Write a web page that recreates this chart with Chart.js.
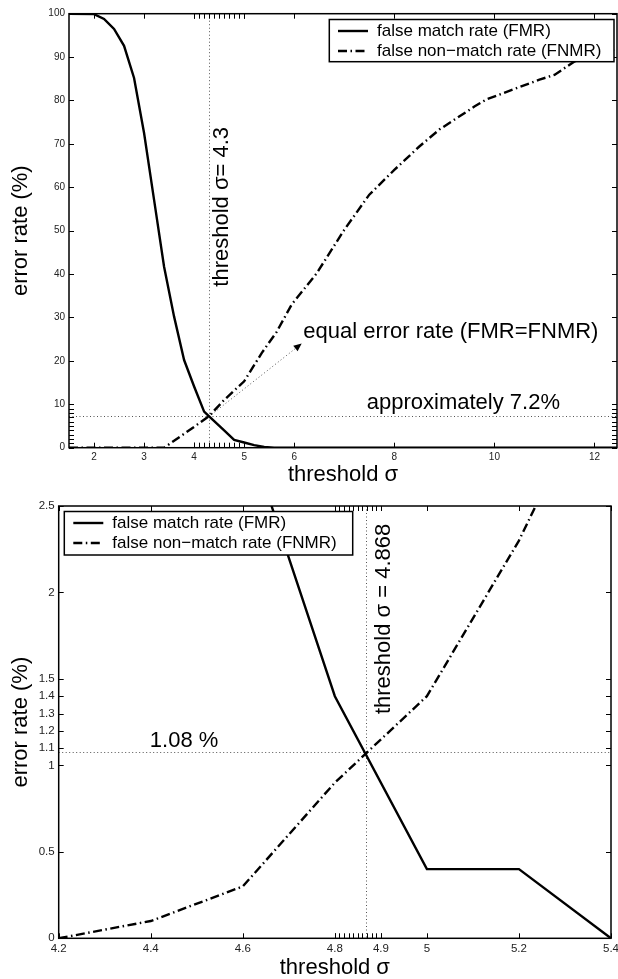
<!DOCTYPE html>
<html><head><meta charset="utf-8">
<script src="https://cdn.jsdelivr.net/npm/chart.js@4.4.1/dist/chart.umd.min.js"></script>
<style>
html,body{margin:0;padding:0;background:#fff;width:618px;height:979px;overflow:hidden}
canvas{position:absolute;left:0}
#c1{top:0}
#c2{top:490px}
</style></head><body>
<canvas id="c1" width="618" height="490"></canvas>
<canvas id="c2" width="618" height="489"></canvas>
<script>
// ---------- data: top chart (full range) ----------
const fmrTopX  = [1.5, 2.0, 2.2, 2.4, 2.6, 2.8, 3.0, 3.2, 3.4, 3.6, 3.8, 4.0, 4.2, 4.3, 4.6, 4.8, 5.0, 5.2, 5.4, 5.6, 12.45];
const fmrTopY  = [100, 99.9, 98.8, 96.5, 92.6, 85.2, 72.5, 57.1, 41.7, 30.2, 20.2, 14.1, 8.3, 7.2, 4.0, 1.8, 1.2, 0.6, 0.15, 0, 0];
const fnmrTopX = [1.5, 3.4, 4.0, 4.3, 4.6, 5.0, 5.35, 5.65, 5.95, 6.45, 7.0, 7.5, 8.0, 8.5, 8.9, 9.6, 9.85, 10.9, 11.2, 11.6, 12.45];
const fnmrTopY = [0, 0, 4.8, 7.3, 11.0, 15.3, 21.8, 26.7, 33.0, 40.2, 50.2, 58.3, 64.0, 69.4, 73.3, 78.6, 80.3, 84.8, 85.9, 89.0, 92.0];
const topXTicks = [2, 3, 4, 5, 6, 8, 10, 12];
const topYTicks = [0, 10, 20, 30, 40, 50, 60, 70, 80, 90, 100];
const topXMinor = [4.0, 4.1, 4.2, 4.3, 4.4, 4.5, 4.6, 4.7, 4.8, 4.9, 5.0];
const topYMinor = [0, 1, 2, 3, 4, 5, 6, 7, 8, 9, 10];
const topEerX = 4.3, topEerY = 7.2;

// ---------- data: bottom chart (zoom) ----------
const fmrBotX  = [4.6, 4.8, 5.0, 5.2, 5.4];
const fmrBotY  = [3.0, 1.4, 0.4, 0.4, 0.0];
const fnmrBotX = [4.2, 4.4, 4.6, 4.8, 5.0, 5.2, 5.4];
const fnmrBotY = [0.0, 0.1, 0.3, 0.9, 1.4, 2.3, 3.4];
const botXTicks = [4.2, 4.4, 4.6, 4.8, 4.9, 5.0, 5.2, 5.4];
const botYTicks = [0, 0.5, 1, 1.1, 1.2, 1.3, 1.4, 1.5, 2, 2.5];
const botXMinor = [4.80, 4.81, 4.82, 4.83, 4.84, 4.85, 4.86, 4.87, 4.88, 4.89, 4.90];
const botYMinor = [];
const botEerX = 4.868, botEerY = 1.08;

const seriesNames = ['false match rate (FMR)', 'false non\u2212match rate (FNMR)'];

const FONT = '"Liberation Sans", Arial, Helvetica, sans-serif';
Chart.defaults.font.family = FONT;
Chart.defaults.color = '#222';
const DASHDOT = [9, 3.5, 1.5, 3.5];

function pts(xs, ys) { return xs.map((x, i) => ({x: x, y: ys[i]})); }
function fmt(v) { return String(Math.round(v * 1000) / 1000); }
function seg(ctx, x1, y1, x2, y2) { ctx.beginPath(); ctx.moveTo(x1, y1); ctx.lineTo(x2, y2); ctx.stroke(); }

function framePlugin(o) {
  return {
    id: 'frame',
    beforeDatasetsDraw(chart) {
      const {ctx, chartArea: a} = chart;
      const xs = chart.scales.x, ys = chart.scales.y;
      ctx.save();
      ctx.strokeStyle = '#555'; ctx.lineWidth = 1; ctx.setLineDash([1, 2.5]);
      const gx = Math.round(xs.getPixelForValue(o.guideX)) + 0.5;
      const gy = Math.round(ys.getPixelForValue(o.guideY)) + 0.5;
      seg(ctx, gx, a.top, gx, a.bottom);
      seg(ctx, a.left, gy, a.right, gy);
      if (o.arrow) {
        const x1 = xs.getPixelForValue(o.arrow.from[0]), y1 = ys.getPixelForValue(o.arrow.from[1]);
        const x2 = xs.getPixelForValue(o.arrow.to[0]), y2 = ys.getPixelForValue(o.arrow.to[1]);
        const ang = Math.atan2(y2 - y1, x2 - x1);
        const hl = 8, hw = 3.5;
        const bx = x2 - hl * Math.cos(ang), by = y2 - hl * Math.sin(ang);
        seg(ctx, x1, y1, bx, by);
        ctx.setLineDash([]);
        ctx.fillStyle = '#000';
        ctx.beginPath();
        ctx.moveTo(x2, y2);
        ctx.lineTo(bx + hw * Math.sin(ang), by - hw * Math.cos(ang));
        ctx.lineTo(bx - hw * Math.sin(ang), by + hw * Math.cos(ang));
        ctx.closePath(); ctx.fill();
      }
      ctx.restore();
    },
    afterDatasetsDraw(chart) {
      const {ctx, chartArea: a} = chart;
      const xs = chart.scales.x, ys = chart.scales.y;
      ctx.save();
      ctx.setLineDash([]);
      ctx.strokeStyle = '#000'; ctx.lineWidth = 1;
      const L = 5;
      const xt = xs.ticks.map(t => t.value).concat(o.minorX);
      const yt = ys.ticks.map(t => t.value).concat(o.minorY);
      xt.forEach(v => { const p = Math.round(xs.getPixelForValue(v)) + 0.5; seg(ctx, p, a.bottom, p, a.bottom - L); seg(ctx, p, a.top, p, a.top + L); });
      yt.forEach(v => { const p = Math.round(ys.getPixelForValue(v)) + 0.5; seg(ctx, a.left, p, a.left + L, p); seg(ctx, a.right, p, a.right - L, p); });
      ctx.lineWidth = 1.5;
      ctx.strokeRect(a.left, a.top, a.right - a.left, a.bottom - a.top);

      // annotation texts
      ctx.fillStyle = '#000';
      ctx.font = '22px ' + FONT;
      o.texts.forEach(t => {
        const px = xs.getPixelForValue(t.x), py = ys.getPixelForValue(t.y);
        ctx.save();
        ctx.translate(px, py);
        if (t.rot) { ctx.rotate(-Math.PI / 2); ctx.textAlign = 'center'; ctx.textBaseline = 'middle'; }
        else { ctx.textAlign = 'left'; ctx.textBaseline = 'alphabetic'; }
        ctx.fillText(t.text, 0, 0);
        ctx.restore();
      });

      // legend
      const g = o.legend;
      ctx.fillStyle = '#fff';
      ctx.fillRect(g.x, g.y, g.w, g.h);
      ctx.lineWidth = 1.5; ctx.strokeStyle = '#000';
      ctx.strokeRect(g.x, g.y, g.w, g.h);
      ctx.font = '17px ' + FONT;
      ctx.textAlign = 'left'; ctx.textBaseline = 'middle';
      chart.data.datasets.forEach((ds, i) => {
        const ry = g.rows[i];
        ctx.strokeStyle = '#000'; ctx.lineWidth = ds.borderWidth;
        ctx.setLineDash(ds.borderDash || []);
        seg(ctx, g.s1, ry, g.s2, ry);
        ctx.setLineDash([]);
        ctx.fillStyle = '#000';
        ctx.fillText(ds.label, g.tx, ry);
      });
      ctx.restore();
    }
  };
}

function makeChart(id, o) {
  return new Chart(document.getElementById(id), {
    type: 'line',
    data: {
      datasets: [
        {label: seriesNames[0], data: pts(o.fmrX, o.fmrY), borderColor: '#000', borderWidth: 2.4, pointRadius: 0, tension: 0, fill: false},
        {label: seriesNames[1], data: pts(o.fnmrX, o.fnmrY), borderColor: '#000', borderWidth: 2.4, borderDash: DASHDOT, pointRadius: 0, tension: 0, fill: false}
      ]
    },
    options: {
      responsive: false, animation: false, events: [],
      layout: {padding: {top: o.areaTop, right: o.padRight, left: 0, bottom: 0}},
      plugins: {legend: {display: false}, tooltip: {enabled: false}},
      scales: {
        x: {
          type: 'linear', bounds: 'data', min: o.xMin, max: o.xMax,
          afterBuildTicks: s => { s.ticks = o.xTicks.map(v => ({value: v})); },
          afterFit: s => { s.height = o.xAxisH; s.paddingLeft = 0; s.paddingRight = 0; },
          grid: {display: false, drawTicks: false}, border: {display: false},
          ticks: {autoSkip: false, maxRotation: 0, padding: o.xPad, font: {size: o.tickSize}, color: '#222', callback: v => fmt(v)},
          title: {display: true, text: 'threshold \u03c3', color: '#000', font: {size: 22, lineHeight: 1}, padding: {top: 0, bottom: o.xTitlePad}}
        },
        y: {
          type: 'linear', bounds: 'data', min: o.yMin, max: o.yMax,
          afterBuildTicks: s => { s.ticks = o.yTicks.map(v => ({value: v})); },
          afterFit: s => { s.width = o.yAxisW; s.paddingTop = 0; s.paddingBottom = 0; },
          grid: {display: false, drawTicks: false}, border: {display: false},
          ticks: {autoSkip: false, padding: 4, font: {size: o.tickSize}, color: '#222', callback: v => fmt(v)},
          title: {display: true, text: 'error rate (%)', color: '#000', font: {size: 22, lineHeight: 1}, padding: {top: 10, bottom: 0}}
        }
      }
    },
    plugins: [framePlugin(o)]
  });
}

makeChart('c1', {
  fmrX: fmrTopX, fmrY: fmrTopY, fnmrX: fnmrTopX, fnmrY: fnmrTopY,
  xMin: 1.5, xMax: 12.45, yMin: 0, yMax: 100,
  xTicks: topXTicks, yTicks: topYTicks, minorX: topXMinor, minorY: topYMinor,
  areaTop: 13.7, padRight: 1, xAxisH: 42.3, yAxisW: 69, xPad: 3.6, tickSize: 10, xTitlePad: 4,
  guideX: topEerX, guideY: topEerY,
  arrow: {from: [topEerX, topEerY], to: [6.15, 24]},
  texts: [
    {text: 'threshold \u03c3= 4.3', x: 4.55, y: 55.5, rot: true},
    {text: 'equal error rate (FMR=FNMR)', x: 6.18, y: 25.2},
    {text: 'approximately 7.2%', x: 7.45, y: 8.9}
  ],
  legend: {x: 329.3, y: 19.5, w: 284.7, h: 42.2, rows: [31, 51], s1: 338, s2: 368, tx: 377}
});

makeChart('c2', {
  fmrX: fmrBotX, fmrY: fmrBotY, fnmrX: fnmrBotX, fnmrY: fnmrBotY,
  xMin: 4.2, xMax: 5.4, yMin: 0, yMax: 2.5,
  xTicks: botXTicks, yTicks: botYTicks, minorX: botXMinor, minorY: botYMinor,
  areaTop: 16, padRight: 7, xAxisH: 40.7, yAxisW: 58.7, xPad: 3.8, tickSize: 11.5, xTitlePad: 0,
  guideX: botEerX, guideY: botEerY,
  arrow: null,
  texts: [
    {text: '1.08 %', x: 4.398, y: 1.105},
    {text: 'threshold \u03c3 = 4.868', x: 4.907, y: 1.847, rot: true}
  ],
  legend: {x: 64.3, y: 21.5, w: 288.4, h: 43.5, rows: [33, 53], s1: 73.3, s2: 103.3, tx: 112.3}
});
</script>
</body></html>
